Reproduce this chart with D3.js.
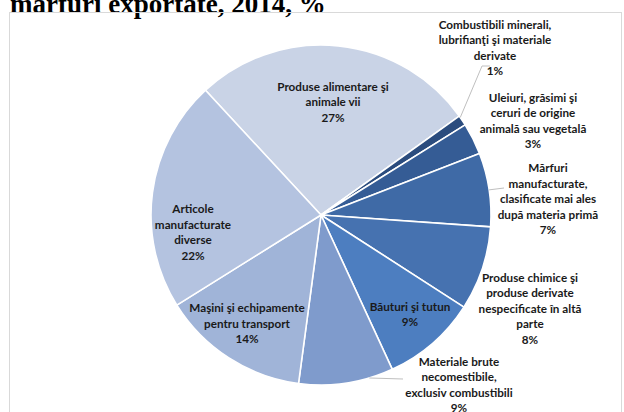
<!DOCTYPE html>
<html>
<head>
<meta charset="utf-8">
<script src="https://cdn.jsdelivr.net/npm/d3@7"></script>
<style>
  html, body { margin: 0; padding: 0; background: #fff; }
  svg { display: block; }
</style>
</head>
<body>
<svg id="chart" width="624" height="412"></svg>
<script>
// Export structure by commodity group, 2014 (%)
const categories = [
  "Produse alimentare şi animale vii",
  "Combustibili minerali, lubrifianţi şi materiale derivate",
  "Uleiuri, grăsimi şi ceruri de origine animală sau vegetală",
  "Mărfuri manufacturate, clasificate mai ales după materia primă",
  "Produse chimice şi produse derivate nespecificate în altă parte",
  "Băuturi şi tutun",
  "Materiale brute necomestibile, exclusiv combustibili",
  "Maşini şi echipamente pentru transport",
  "Articole manufacturate diverse"
];
const values = [27, 1, 3, 7, 8, 9, 9, 14, 22];
const sliceColors = ["#c9d3e6", "#2b4c7e", "#355c95", "#3f6aa6", "#4672b0",
                     "#4d7ec0", "#7f9bcc", "#a0b4d8", "#b4c3e0"];
// label lines (wrapped as in the chart)
const labelLines = [
  ["Produse alimentare şi", "animale vii"],
  ["Combustibili minerali,", "lubrifianţi şi materiale", "derivate"],
  ["Uleiuri, grăsimi şi", "ceruri de origine", "animală sau vegetală"],
  ["Mărfuri", "manufacturate,", "clasificate mai ales", "după materia primă"],
  ["Produse chimice şi", "produse derivate", "nespecificate în altă", "parte"],
  ["Băuturi şi tutun"],
  ["Materiale brute", "necomestibile,", "exclusiv combustibili"],
  ["Maşini şi echipamente", "pentru transport"],
  ["Articole", "manufacturate", "diverse"]
];
const title = "mărfuri exportate, 2014, %";

const svg = d3.select("#chart");
const cx = 321, cy = 215, R = 170;
const lineH = 15.5;

// title (cut by the top edge)
svg.append("text")
  .attr("x", 10).attr("y", 13)
  .attr("font-family", "'Liberation Serif', 'Times New Roman', serif")
  .attr("font-weight", "bold")
  .attr("font-size", 27)
  .attr("fill", "#000")
  .text(title);

// chart area frame
svg.append("rect")
  .attr("x", 9.5).attr("y", 12.5)
  .attr("width", 612).attr("height", 420)
  .attr("fill", "none")
  .attr("stroke", "#d9d9d9");

const startRad = -42.8 * Math.PI / 180;
const pie = d3.pie().sort(null).value(d => d)
  .startAngle(startRad).endAngle(startRad + 2 * Math.PI);
const arcs = pie(values);
const arc = d3.arc().innerRadius(0).outerRadius(R);

const g = svg.append("g").attr("transform", `translate(${cx},${cy})`);
g.selectAll("path.slice")
  .data(arcs)
  .join("path")
  .attr("class", "slice")
  .attr("d", arc)
  .attr("fill", (d, i) => sliceColors[i])
  .attr("stroke", "#fff")
  .attr("stroke-width", 1.6)
  .attr("stroke-linejoin", "round");

// label anchor positions (centre of text block, first line y)
const labelPos = [
  [333, 86.7],
  [495, 24.5],
  [533, 97.7],
  [548, 168.3],
  [530, 277.7],
  [410, 306.7],
  [459, 361.7],
  [247, 308.3],
  [193, 209]
];

// leader lines for outside labels
const pt = (deg, r) => {
  const a = deg * Math.PI / 180;
  return [cx + r * Math.sin(a), cy - r * Math.cos(a)];
};
const leaders = [
  [pt(55, R), [482, 66], [490, 66]],
  [pt(81.5, R), [504, 188]],
  [pt(163.5, R), [403, 379]]
];
const lineGen = d3.line();
svg.selectAll("path.leader")
  .data(leaders)
  .join("path")
  .attr("class", "leader")
  .attr("d", d => lineGen(d))
  .attr("fill", "none")
  .attr("stroke", "#bfbfbf")
  .attr("stroke-width", 1);

const labels = svg.selectAll("text.lbl")
  .data(arcs)
  .join("text")
  .attr("class", "lbl")
  .attr("font-family", "Lato, 'Open Sans', sans-serif")
  .attr("font-weight", "bold")
  .attr("font-size", 11.7)
  .attr("fill", "#1a1a1a")
  .attr("text-anchor", "middle");

labels.each(function (d, i) {
  const t = d3.select(this);
  const [x, y] = labelPos[i];
  const lines = labelLines[i].concat([d3.format("d")(d.data) + "%"]);
  lines.forEach((s, k) => {
    t.append("tspan")
      .attr("x", x)
      .attr("y", y + k * lineH)
      .attr("dy", "0.35em")
      .text(s);
  });
});
</script>
</body>
</html>
